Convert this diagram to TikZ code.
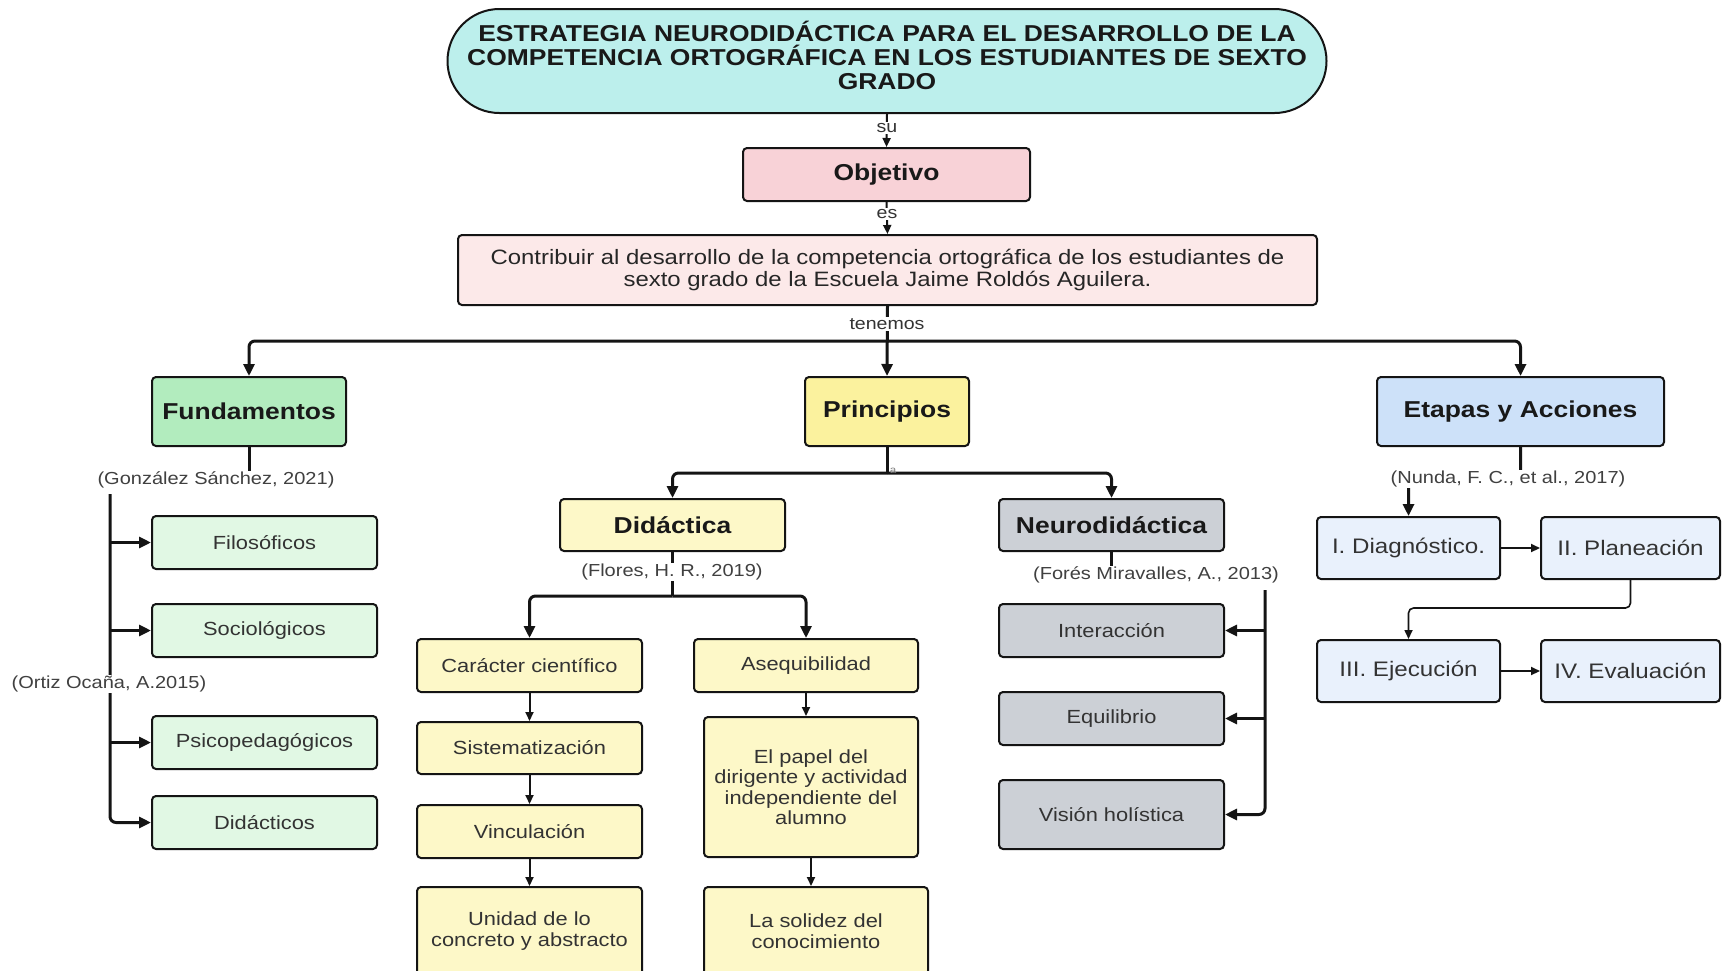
\documentclass[tikz,border=0pt]{standalone}
\usepackage{fontspec}
\setmainfont{Liberation Sans}[FakeStretch=1.15]
\usetikzlibrary{arrows.meta,backgrounds}
\definecolor{cTitle}{RGB}{188,239,236}
\definecolor{cObj}{RGB}{248,210,215}
\definecolor{cContr}{RGB}{252,233,233}
\definecolor{cFund}{RGB}{178,236,190}
\definecolor{cFundL}{RGB}{225,248,228}
\definecolor{cPrin}{RGB}{251,242,158}
\definecolor{cYelL}{RGB}{253,248,200}
\definecolor{cGray}{RGB}{204,208,214}
\definecolor{cEtap}{RGB}{205,225,249}
\definecolor{cBluL}{RGB}{233,241,252}
\definecolor{cLine}{RGB}{20,20,20}
\begin{document}
\begin{tikzpicture}[x=1pt,y=-1pt,
  box/.style={draw=cLine, line width=2pt, rounded corners=4pt, align=center, inner sep=2pt},
  hdr/.style={box, font=\fontsize{23}{26}\selectfont\bfseries, text=black!90},
  item/.style={box, font=\fontsize{19}{21}\selectfont, text=black!80},
  stage/.style={box, font=\fontsize{21}{23}\selectfont, text=black!80},
  cite/.style={fill=white, inner sep=1pt, font=\fontsize{17.4}{19}\selectfont, text=black!75},
  lbl/.style={fill=white, inner sep=1pt, font=\fontsize{17}{18}\selectfont, text=black!80},
  conn/.style={draw=cLine, line width=3pt, rounded corners=6pt, -{Triangle[length=12pt,width=11pt]}},
  thinc/.style={draw=cLine, line width=2pt, -{Triangle[length=9pt,width=8pt]}},
  plain/.style={draw=cLine, line width=3pt}
]
\useasboundingbox (0,0) rectangle (1722,970);

% Title and top chain
\node[box, fill=cTitle, rounded corners=52pt, minimum width=879pt, minimum height=104pt,
      font=\fontsize{23}{24}\selectfont\bfseries, text=black!90] (ttl) at (887,61)
  {ESTRATEGIA NEURODIDÁCTICA PARA EL DESARROLLO DE LA\\COMPETENCIA ORTOGRÁFICA EN LOS ESTUDIANTES DE SEXTO\\GRADO\rule[-11pt]{0pt}{11pt}};
\node[hdr, fill=cObj, minimum width=287pt, minimum height=53pt] (obj) at (886.5,174.5) {Objetivo};
\node[item, fill=cContr, minimum width=859pt, minimum height=70pt, text=black!85,
      font=\fontsize{20.8}{22}\selectfont] (contr) at (887.5,270)
  {Contribuir al desarrollo de la competencia ortográfica de los estudiantes de\\sexto grado de la Escuela Jaime Roldós Aguilera.};

% Level 2
\node[hdr, fill=cFund, minimum width=194pt, minimum height=69pt] (fund) at (249,411.5) {Fundamentos};
\node[hdr, fill=cPrin, minimum width=164pt, minimum height=69pt] (prin) at (887,411.5) {Principios};
\node[hdr, fill=cEtap, minimum width=287pt, minimum height=69pt] (etap) at (1520.5,411.5) {Etapas y Acciones};

% Fundamentos children
\node[item, fill=cFundL, minimum width=225pt, minimum height=53pt] (filo) at (264.5,542.5) {Filosóficos};
\node[item, fill=cFundL, minimum width=225pt, minimum height=53pt] (soci) at (264.5,630.5) {Sociológicos};
\node[item, fill=cFundL, minimum width=225pt, minimum height=53pt] (psic) at (264.5,742.5) {Psicopedagógicos};
\node[item, fill=cFundL, minimum width=225pt, minimum height=53pt] (dida) at (264.5,822.5) {Didácticos};

% Principios children
\node[hdr, fill=cYelL, minimum width=225pt, minimum height=52pt] (didac) at (672.5,525) {Didáctica};
\node[hdr, fill=cGray, minimum width=225pt, minimum height=52pt] (neuro) at (1111.5,525) {Neurodidáctica};

\node[item, fill=cYelL, minimum width=225pt, minimum height=53pt] (carac) at (529.5,665.5) {Carácter científico};
\node[item, fill=cYelL, minimum width=225pt, minimum height=52pt] (sist) at (529.5,748) {Sistematización};
\node[item, fill=cYelL, minimum width=225pt, minimum height=53pt] (vinc) at (529.5,831.5) {Vinculación};
\node[item, fill=cYelL, minimum width=225pt, minimum height=88pt] (unid) at (529.5,931) {Unidad de lo\\concreto y abstracto};

\node[item, fill=cYelL, minimum width=224pt, minimum height=53pt] (aseq) at (806,665.5) {Asequibilidad};
\node[item, fill=cYelL, minimum width=214pt, minimum height=140pt, font=\fontsize{19}{20.5}\selectfont] (papel) at (811,787)
  {El papel del\\dirigente y actividad\\independiente del\\alumno};
\node[item, fill=cYelL, minimum width=224pt, minimum height=88pt] (solid) at (816,931) {La solidez del\\conocimiento};

\node[item, fill=cGray, minimum width=225pt, minimum height=53pt] (inter) at (1111.5,630.5) {Interacción};
\node[item, fill=cGray, minimum width=225pt, minimum height=53pt] (equil) at (1111.5,718.5) {Equilibrio};
\node[item, fill=cGray, minimum width=225pt, minimum height=69pt] (visi) at (1111.5,814.5) {Visión holística};

% Etapas children
\node[stage, fill=cBluL, minimum width=183pt, minimum height=62pt] (diag) at (1408.5,548) {I. Diagnóstico.};
\node[stage, fill=cBluL, minimum width=179pt, minimum height=62pt] (plan) at (1630.5,548) {II. Planeación};
\node[stage, fill=cBluL, minimum width=183pt, minimum height=62pt] (ejec) at (1408.5,671) {III. Ejecución};
\node[stage, fill=cBluL, minimum width=179pt, minimum height=62pt] (eval) at (1630.5,671) {IV. Evaluación};

% Labels (on top of connectors)
\node[lbl] (su) at (887,128) {su};
\node[lbl] (es) at (887,214) {es};
\node[lbl] (ten) at (887,324) {tenemos};
\node[lbl, font=\fontsize{10}{11}\selectfont, fill=none, text=black!50] (la) at (893,471) {a};
\node[cite] (c1) at (216,480) {(González Sánchez, 2021)};
\node[cite] (c2) at (109,684) {(Ortiz Ocaña, A.2015)};
\node[cite] (c3) at (672,572) {(Flores, H. R., 2019)};
\node[cite] (c4) at (1156,575) {(Forés Miravalles, A., 2013)};
\node[cite] (c5) at (1508,479) {(Nunda, F. C., et al., 2017)};

\coordinate (tb) at (887,341);
\coordinate (ft) at (110,494);
\coordinate (pb) at (887,473);
\coordinate (db) at (672.5,596);
\coordinate (nt) at (1265,590);

\begin{scope}[on background layer]
\fill[white] (0,0) rectangle (1722,970);
% top chain
\draw[thinc] (ttl.south) -- (obj.north);
\draw[thinc] (obj.south) -- (contr.north);
\draw[conn] (contr.south) -- (prin.north);
\draw[conn] (tb) -| (fund.north);
\draw[conn] (tb) -| (etap.north);
% Fundamentos
\draw[plain] (fund.south) -- (fund.south |- c1.center);
\draw[conn] (ft) |- (dida.west);
\draw[conn] (ft |- filo.west) -- (filo.west);
\draw[conn] (ft |- soci.west) -- (soci.west);
\draw[conn] (ft |- psic.west) -- (psic.west);
% Principios
\draw[plain] (prin.south) -- (pb);
\draw[conn] (pb) -| (didac.north);
\draw[conn] (pb) -| (neuro.north);
% Didactica
\draw[plain] (didac.south) -- (db);
\draw[conn] (db) -| (carac.north);
\draw[conn] (db) -| (aseq.north);
\draw[thinc] (carac.south) -- (sist.north);
\draw[thinc] (sist.south) -- (vinc.north);
\draw[thinc] (vinc.south) -- (unid.north);
\draw[thinc] (aseq.south) -- (aseq.south |- papel.north);
\draw[thinc] (papel.south) -- (papel.south |- solid.north);
% Neurodidactica
\draw[plain] (neuro.south) -- (neuro.south |- c4.center);
\draw[conn] (nt) |- (visi.east);
\draw[conn] (nt |- inter.east) -- (inter.east);
\draw[conn] (nt |- equil.east) -- (equil.east);
% Etapas
\draw[conn] (etap.south) |- (c5.center) -| (diag.north);
\draw[thinc] (diag.east) -- (plan.west);
\draw[thinc] (ejec.east) -- (eval.west);
\draw[thinc, line width=1.6pt, rounded corners=5pt] (plan.south) -- ++(0,28) -| (ejec.north);
\end{scope}
\end{tikzpicture}
\end{document}
